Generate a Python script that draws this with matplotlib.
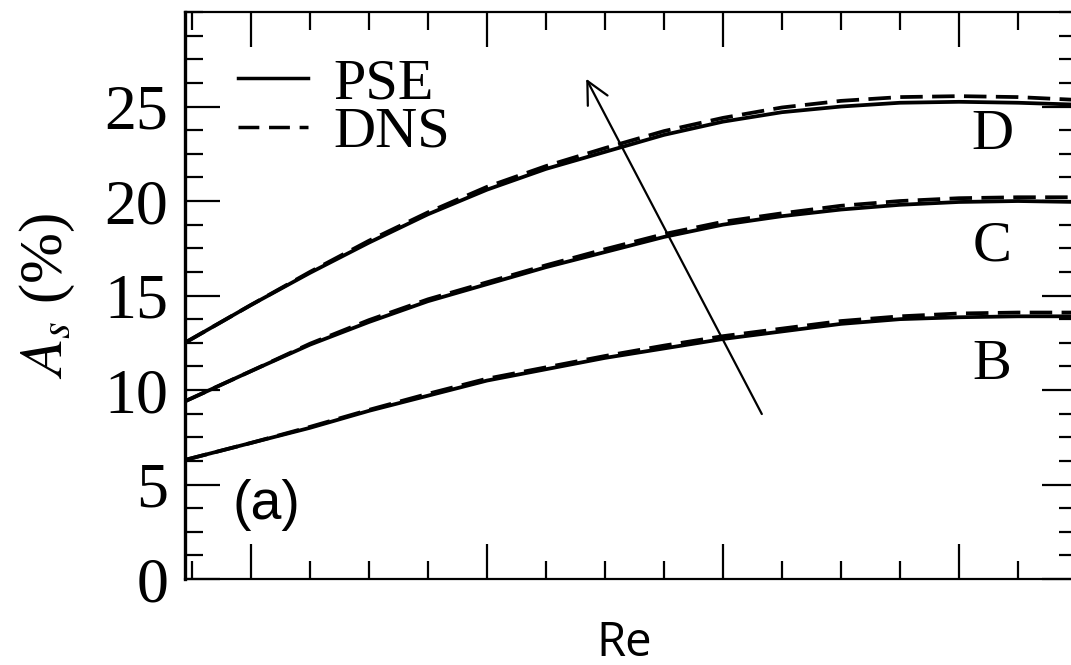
import matplotlib
matplotlib.use('Agg')
import matplotlib.pyplot as plt
from matplotlib.ticker import MultipleLocator

plt.rcParams['font.family'] = 'Liberation Serif'
plt.rcParams['mathtext.fontset'] = 'stix'

# Re axis in arbitrary units (no tick labels on the original)
re_vals = [0.72, 1.0, 1.25, 1.5, 1.75, 2.0, 2.25, 2.5, 2.75, 3.0, 3.25, 3.5,
           3.75, 4.0, 4.25, 4.5]

# PSE curves
pse_B = [6.3, 7.2, 8.0, 8.9, 9.7, 10.5, 11.1, 11.7, 12.2, 12.7, 13.1, 13.5,
         13.75, 13.85, 13.9, 13.9]
pse_C = [9.4, 11.0, 12.4, 13.6, 14.7, 15.6, 16.5, 17.3, 18.1, 18.75, 19.2,
         19.55, 19.8, 19.95, 20.0, 19.95]
pse_D = [12.5, 14.5, 16.2, 17.8, 19.3, 20.6, 21.7, 22.6, 23.5, 24.2, 24.7,
         25.0, 25.2, 25.25, 25.2, 25.1]

# DNS curves
dns_B = [6.3, 7.2, 8.05, 8.95, 9.8, 10.6, 11.2, 11.8, 12.35, 12.85, 13.25,
         13.65, 13.9, 14.05, 14.1, 14.1]
dns_C = [9.4, 11.0, 12.45, 13.7, 14.8, 15.7, 16.6, 17.45, 18.25, 18.9, 19.35,
         19.75, 20.0, 20.15, 20.2, 20.2]
dns_D = [12.5, 14.5, 16.25, 17.9, 19.4, 20.75, 21.85, 22.8, 23.7, 24.4, 24.95,
         25.3, 25.5, 25.55, 25.5, 25.35]

case_names = ['B', 'C', 'D']
case_label_y = [11.3, 17.6, 23.5]

fig = plt.figure(figsize=(10.71, 6.65), dpi=100)
ax = fig.add_axes([0.1727, 0.1293, 0.8329, 0.8526])

for pse, dns in [(pse_B, dns_B), (pse_C, dns_C), (pse_D, dns_D)]:
    ax.plot(re_vals, pse, color='black', lw=2.7)
    ax.plot(re_vals, dns, color='black', lw=2.7, dashes=(6, 2.5))

# legend handles
ax.plot([], [], color='black', lw=2.5, label='PSE')
ax.plot([], [], color='black', lw=2.5, dashes=(6, 2.8), label='DNS')
handles, labels = ax.get_legend_handles_labels()
ax.legend(handles, labels, loc='upper left', bbox_to_anchor=(0.059, 0.919),
          frameon=False, fontsize=42, handlelength=1.2, handletextpad=0.45,
          labelspacing=-0.08, borderpad=0.0, borderaxespad=0.0)

for name, yy in zip(case_names, case_label_y):
    ax.text(4.14, yy, name, fontsize=42, ha='center', va='center')

ax.text(0.92, 3.9, '(a)', fontsize=40, family='Liberation Sans',
        ha='left', va='center')

ax.annotate('', xy=(2.415, 26.6), xytext=(3.17, 8.6),
            arrowprops=dict(arrowstyle='->', color='black', lw=1.6,
                            mutation_scale=40))

ax.set_xlim(0.7203, 4.5)
ax.set_ylim(0, 30)
ax.xaxis.set_major_locator(MultipleLocator(1))
ax.xaxis.set_minor_locator(MultipleLocator(0.25))
ax.yaxis.set_major_locator(MultipleLocator(5))
ax.yaxis.set_minor_locator(MultipleLocator(1.25))
ax.set_yticks([0, 5, 10, 15, 20, 25])
ax.tick_params(which='both', direction='in', top=True, right=True, width=1.6)
ax.tick_params(which='major', length=25, labelsize=46, pad=12)
ax.tick_params(which='minor', length=13)
ax.set_xticklabels([])
for side in ['top', 'bottom', 'right']:
    ax.spines[side].set_linewidth(1.6)
ax.spines['left'].set_linewidth(2.4)

ax.set_ylabel(r'$A_s$ (%)', fontsize=44, labelpad=20)
fig.text(624 / 1071, 1 - 656 / 665, 'Re', fontsize=34, family='Open Sans',
         ha='center', va='baseline')

fig.savefig('out.png', dpi=100)
